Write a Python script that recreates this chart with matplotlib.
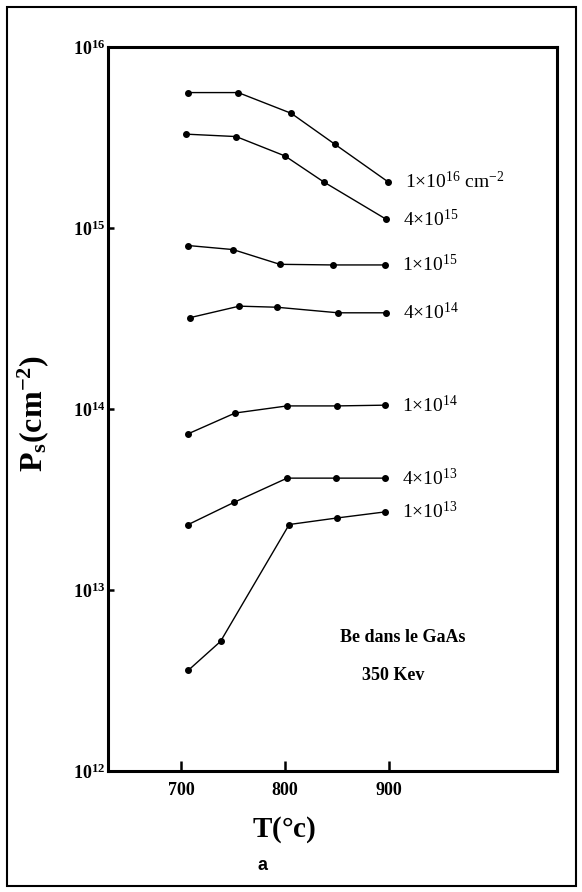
import matplotlib
matplotlib.use("Agg")
from matplotlib import pyplot as plt
from matplotlib.patches import Rectangle
from matplotlib.ticker import NullLocator

plt.rcParams['font.family'] = ['Liberation Serif', 'DejaVu Serif']
plt.rcParams['mathtext.fontset'] = 'custom'
plt.rcParams['mathtext.rm'] = 'Liberation Serif'
plt.rcParams['mathtext.it'] = 'Liberation Serif:italic'
plt.rcParams['mathtext.bf'] = 'Liberation Serif:bold'

# annealing temperature (°C) and sheet concentration (cm^-2) for each implanted dose
dose_labels = ['1×10$^{16}$ cm$^{-2}$', '4×10$^{15}$', '1×10$^{15}$', '4×10$^{14}$',
               '1×10$^{14}$', '4×10$^{13}$', '1×10$^{13}$']

temps = [
    [707, 755, 806, 848, 899],
    [705, 753, 800, 837, 897],
    [707, 750, 795, 846, 896],
    [709, 756, 792, 851, 897],
    [707, 752, 802, 850, 896],
    [707, 751, 802, 849, 896],
    [707, 738, 804, 850, 896],
]

ps = [
    [5.6e15, 5.6e15, 4.3e15, 2.9e15, 1.8e15],
    [3.3e15, 3.2e15, 2.5e15, 1.8e15, 1.12e15],
    [8.0e14, 7.6e14, 6.3e14, 6.25e14, 6.25e14],
    [3.2e14, 3.7e14, 3.65e14, 3.4e14, 3.4e14],
    [7.3e13, 9.5e13, 1.04e14, 1.04e14, 1.05e14],
    [2.3e13, 3.05e13, 4.15e13, 4.15e13, 4.15e13],
    [3.6e12, 5.2e12, 2.3e13, 2.5e13, 2.7e13],
]

x_ticks = [700, 800, 900]
y_ticks = [1e12, 1e13, 1e14, 1e15, 1e16]
y_tick_labels = [r'$\mathbf{10^{12}}$', r'$\mathbf{10^{13}}$', r'$\mathbf{10^{14}}$',
                 r'$\mathbf{10^{15}}$', r'$\mathbf{10^{16}}$']

W, H = 582, 892
fig = plt.figure(figsize=(W / 100, H / 100), dpi=100)
ax = fig.add_axes([108 / W, 1 - 771 / H, (557 - 108) / W, (771 - 47) / H])

for t, p, lab in zip(temps, ps, dose_labels):
    ax.plot(t, p, color='black', lw=1.0, marker='o', ms=4)
    ax.annotate(lab, xy=(t[-1], p[-1]), xytext=(12, 0), textcoords='offset points',
                ha='left', va='center', fontsize=14)

ax.set_yscale('log')
ax.set_xlim(629.8, 1061.5)
ax.set_ylim(1e12, 1e16)
ax.set_xticks(x_ticks)
ax.set_xticklabels([str(v) for v in x_ticks], fontweight='bold', fontsize=13)
ax.set_yticks(y_ticks)
ax.set_yticklabels(y_tick_labels, fontsize=13)
ax.yaxis.set_minor_locator(NullLocator())
ax.tick_params(axis='x', direction='in', length=7, width=1.8, pad=8)
ax.tick_params(axis='y', direction='in', length=4, width=1.8, pad=2)
for s in ax.spines.values():
    s.set_linewidth(2.2)

fig.text(340 / W, 1 - 637 / H, 'Be dans le GaAs', fontsize=13, fontweight='bold',
         ha='left', va='center')
fig.text(362 / W, 1 - 675 / H, '350 Kev', fontsize=13, fontweight='bold',
         ha='left', va='center')

fig.text(33 / W, 1 - 413 / H, r'$\mathbf{P_s(cm^{-2})}$', fontsize=23, rotation=90,
         ha='center', va='center')
fig.text(284 / W, 1 - 830 / H, r'$\mathbf{T(°c)}$', fontsize=21,
         ha='center', va='center')
fig.text(262 / W, 1 - 866 / H, 'a', fontsize=13, fontweight='bold',
         family=['Liberation Sans'], ha='center', va='center')

fig.patches.append(Rectangle((7 / W, 6 / H), (576 - 7) / W, (886 - 7) / H,
                             transform=fig.transFigure, fill=False,
                             edgecolor='black', lw=1.5))

fig.savefig('out.png', dpi=100)
